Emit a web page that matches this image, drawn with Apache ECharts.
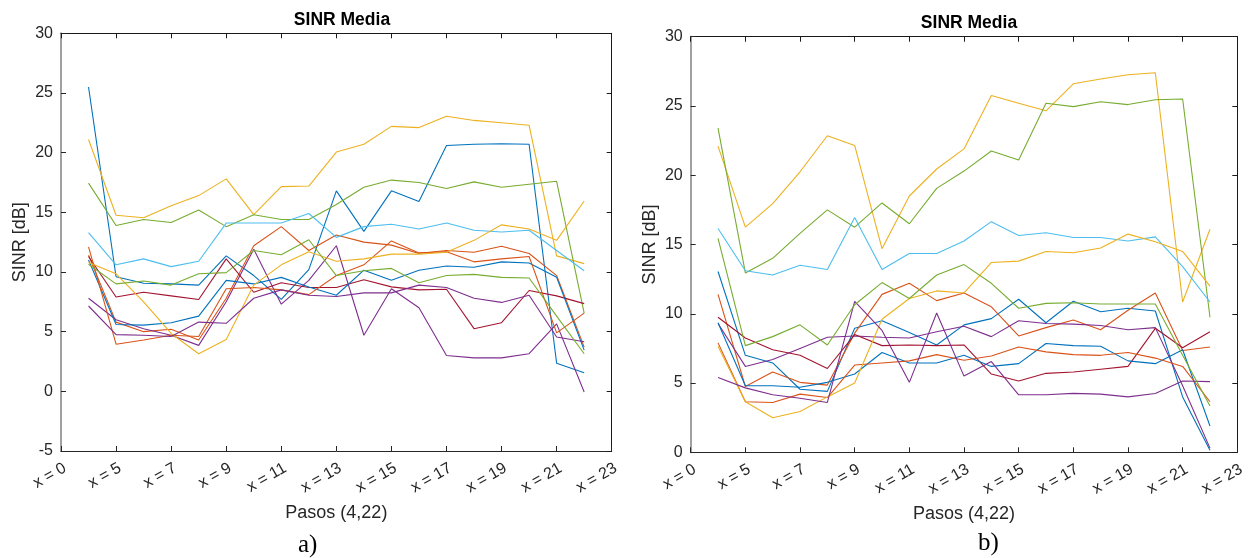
<!DOCTYPE html>
<html>
<head>
<meta charset="utf-8">
<script src="https://cdn.jsdelivr.net/npm/echarts@6/dist/echarts.min.js"></script>
<style>
  html, body { margin: 0; padding: 0; background: #ffffff; }
  #chart { width: 1251px; height: 558px; }
</style>
</head>
<body>
<div id="chart"></div>
<script>
// Steps along the route (x = 4 ... 22)
const steps = [4, 5, 6, 7, 8, 9, 10, 11, 12, 13, 14, 15, 16, 17, 18, 19, 20, 21, 22];

// Axis ticks and their labels
const tickValues = [3, 5, 7, 9, 11, 13, 15, 17, 19, 21, 23];
const tickLabels = ['x = 0', 'x = 5', 'x = 7', 'x = 9', 'x = 11', 'x = 13', 'x = 15', 'x = 17', 'x = 19', 'x = 21', 'x = 23'];
const yTicksA = [-5, 0, 5, 10, 15, 20, 25, 30];
const yTicksB = [0, 5, 10, 15, 20, 25, 30];

// Panel a) mean SINR per run [dB]
const a1  = [25.5, 9.6, 9.05, 9.0, 8.9, 11.35, 9.7, 7.7, 10.2, 16.8, 13.4, 16.8, 15.9, 20.6, 20.7, 20.75, 20.7, 2.35, 1.55];
const a2  = [11.4, 5.8, 5.0, 5.2, 4.3, 7.8, 12.2, 13.8, 11.8, 13.1, 12.5, 12.25, 11.55, 11.8, 11.65, 12.15, 11.55, 9.7, 3.7];
const a3  = [21.1, 14.75, 14.55, 15.55, 16.4, 17.8, 14.8, 17.15, 17.2, 20.05, 20.7, 22.2, 22.1, 23.05, 22.7, 22.5, 22.3, 11.35, 10.7];
const a4  = [7.8, 6.0, 5.25, 4.7, 3.85, 7.5, 11.9, 7.3, 9.3, 12.2, 4.7, 8.6, 7.0, 3.0, 2.8, 2.8, 3.15, 5.65, -0.05];
const a5  = [17.45, 13.9, 14.4, 14.15, 15.2, 13.8, 14.8, 14.4, 14.4, 15.65, 17.1, 17.7, 17.5, 17.0, 17.55, 17.1, 17.35, 17.6, 6.55];
const a6  = [13.3, 10.6, 11.1, 10.45, 10.9, 14.1, 14.1, 14.1, 14.9, 12.9, 13.8, 14.0, 13.6, 14.1, 13.5, 13.35, 13.5, 11.8, 10.1];
const a7  = [11.3, 7.9, 8.3, 8.0, 7.7, 11.1, 8.3, 9.1, 8.7, 8.7, 9.35, 8.75, 8.5, 8.55, 5.25, 5.75, 8.45, 8.0, 7.35];
const a8  = [11.0, 5.6, 5.55, 5.75, 6.3, 9.3, 9.0, 9.55, 8.75, 8.05, 10.15, 9.3, 10.15, 10.5, 10.4, 10.85, 10.75, 9.55, 3.45];
const a9  = [12.1, 3.95, 4.3, 4.7, 4.6, 8.6, 8.7, 8.5, 8.1, 9.7, 10.6, 12.6, 11.6, 11.7, 10.85, 11.1, 11.3, 4.9, 6.55];
const a10 = [10.8, 9.85, 7.5, 4.85, 3.15, 4.35, 8.9, 10.6, 11.7, 10.9, 11.1, 11.5, 11.5, 11.65, 12.65, 13.95, 13.6, 12.65, 15.95];
const a11 = [7.15, 4.75, 4.7, 4.6, 5.8, 5.7, 7.8, 8.5, 8.05, 7.95, 8.25, 8.25, 8.9, 8.7, 7.8, 7.45, 8.05, 4.55, 4.15];
const a12 = [10.65, 9.0, 9.25, 8.9, 9.85, 9.95, 11.8, 11.45, 12.7, 9.7, 10.1, 10.3, 9.1, 9.7, 9.8, 9.55, 9.5, 6.3, 3.15];

// Panel b) mean SINR per run [dB]
const b1  = [13.05, 7.0, 6.45, 4.55, 4.4, 8.95, 9.5, 8.65, 7.75, 9.2, 9.65, 11.05, 9.35, 10.9, 10.15, 10.4, 10.2, 4.0, 0.15];
const b2  = [11.4, 4.75, 5.8, 5.05, 4.85, 8.6, 11.4, 12.2, 10.95, 11.5, 10.5, 8.4, 9.0, 9.55, 8.85, 10.25, 11.5, 7.35, 7.6];
const b3  = [22.1, 16.25, 17.95, 20.25, 22.85, 22.15, 14.7, 18.5, 20.45, 21.9, 25.75, 25.2, 24.65, 26.6, 26.95, 27.25, 27.4, 10.85, 16.1];
const b4  = [9.3, 6.2, 6.7, 7.5, 8.3, 8.4, 8.3, 8.25, 8.7, 9.1, 8.35, 9.5, 9.3, 9.25, 9.15, 8.85, 9.0, 4.8, 0.3];
const b5  = [23.4, 12.95, 14.0, 15.8, 17.5, 16.25, 18.0, 16.5, 19.05, 20.3, 21.75, 21.1, 25.2, 24.95, 25.3, 25.1, 25.45, 25.5, 9.75];
const b6  = [16.15, 13.1, 12.8, 13.5, 13.2, 16.95, 13.2, 14.35, 14.35, 15.25, 16.65, 15.65, 15.85, 15.5, 15.5, 15.25, 15.55, 13.4, 10.85];
const b7  = [9.75, 8.25, 7.4, 7.0, 6.05, 8.5, 7.7, 7.75, 7.7, 7.75, 5.65, 5.15, 5.7, 5.8, 6.0, 6.2, 8.95, 7.55, 8.7];
const b8  = [9.35, 4.8, 4.8, 4.7, 5.05, 5.65, 7.2, 6.45, 6.45, 7.0, 6.2, 6.4, 7.85, 7.7, 7.65, 6.6, 6.4, 7.4, 1.9];
const b9  = [7.9, 3.65, 3.6, 4.2, 3.95, 6.3, 6.45, 6.6, 7.05, 6.65, 6.95, 7.6, 7.25, 7.05, 7.0, 7.2, 6.8, 6.2, 3.65];
const b10 = [7.65, 3.65, 2.5, 2.95, 4.0, 5.0, 9.6, 11.1, 11.65, 11.5, 13.7, 13.8, 14.5, 14.4, 14.75, 15.75, 15.2, 14.5, 12.0];
const b11 = [5.4, 4.65, 4.15, 3.9, 3.6, 10.9, 8.8, 5.05, 10.05, 5.5, 6.55, 4.15, 4.15, 4.25, 4.2, 4.0, 4.25, 5.15, 5.1];
const b12 = [15.45, 7.7, 8.35, 9.2, 7.75, 10.65, 12.25, 11.1, 12.8, 13.55, 12.2, 10.4, 10.75, 10.8, 10.7, 10.7, 10.7, 7.0, 3.35];

const runsA = [a1, a2, a3, a4, a5, a6, a7, a8, a9, a10, a11, a12];
const runsB = [b1, b2, b3, b4, b5, b6, b7, b8, b9, b10, b11, b12];

// Default line colour order, cycling
const lineColors = ['#0072BD', '#D95319', '#EDB120', '#7E2F8E', '#77AC30', '#4DBEEE', '#A2142F'];

const FONT = '"Liberation Sans", Arial, Helvetica, sans-serif';
const SERIF = '"Liberation Serif", "Times New Roman", serif';
const TXT = '#262626';

const grids = [
  { left: 61, top: 33.3, width: 550.7, height: 417.7 },
  { left: 690.7, top: 36.7, width: 546.6, height: 415.6 }
];

function tickFormatter(v) {
  const i = tickValues.indexOf(v);
  return i >= 0 ? tickLabels[i] : '';
}

const xAxes = [];
const yAxes = [];
[0, 1].forEach(function (g) {
  // bottom axis with labels
  xAxes.push({
    type: 'value', gridIndex: g, position: 'bottom', min: 3, max: 23,
    name: 'Pasos (4,22)', nameLocation: 'middle', nameGap: 53,
    nameTextStyle: { fontFamily: FONT, fontSize: 18, color: TXT },
    axisLine: { show: true, onZero: false, lineStyle: { color: TXT, width: 1 } },
    axisTick: { show: true, inside: true, length: 5, customValues: tickValues, lineStyle: { color: TXT } },
    axisLabel: {
      show: true, rotate: 30, margin: 9, customValues: tickValues,
      align: 'right', verticalAlign: 'top',
      formatter: tickFormatter, fontFamily: FONT, fontSize: 16, color: TXT
    },
    splitLine: { show: false }
  });
  // top box edge
  xAxes.push({
    type: 'value', gridIndex: g, position: 'top', min: 3, max: 23,
    axisLine: { show: true, onZero: false, lineStyle: { color: '#1a1a1a', width: 1 } },
    axisTick: { show: true, inside: true, length: 5, customValues: tickValues, lineStyle: { color: '#1a1a1a' } },
    axisLabel: { show: false },
    splitLine: { show: false }
  });
  const yt = g === 0 ? yTicksA : yTicksB;
  // left axis with labels
  yAxes.push({
    type: 'value', gridIndex: g, position: 'left',
    min: yt[0], max: yt[yt.length - 1], interval: 5,
    name: 'SINR [dB]', nameLocation: 'middle', nameGap: 32, nameRotate: 90,
    nameTextStyle: { fontFamily: FONT, fontSize: 18, color: TXT },
    axisLine: { show: true, onZero: false, lineStyle: { color: '#a0a0a0', width: 2 } },
    axisTick: { show: true, inside: true, length: 5, lineStyle: { color: TXT } },
    axisLabel: { show: true, margin: 8, fontFamily: FONT, fontSize: 16, color: TXT },
    splitLine: { show: false }
  });
  // right box edge
  yAxes.push({
    type: 'value', gridIndex: g, position: 'right',
    min: yt[0], max: yt[yt.length - 1], interval: 5,
    axisLine: { show: true, onZero: false, lineStyle: { color: '#1a1a1a', width: 1 } },
    axisTick: { show: true, inside: true, length: 5, lineStyle: { color: '#1a1a1a' } },
    axisLabel: { show: false },
    splitLine: { show: false }
  });
});

function makeSeries(runs, g) {
  return runs.map(function (vals, k) {
    return {
      type: 'line',
      xAxisIndex: g * 2,
      yAxisIndex: g * 2,
      data: steps.map(function (s, i) { return [s, vals[i]]; }),
      showSymbol: false,
      symbol: 'none',
      lineStyle: { width: 1.1, color: lineColors[k % lineColors.length] },
      itemStyle: { color: lineColors[k % lineColors.length] },
      emphasis: { disabled: true },
      z: 2 + k
    };
  });
}

const option = {
  backgroundColor: '#ffffff',
  animation: false,
  title: [
    { text: 'SINR Media', left: 337, top: 6, textAlign: 'center',
      textStyle: { fontFamily: FONT, fontSize: 17.5, fontWeight: 'bold', color: '#000000' } },
    { text: 'SINR Media', left: 964, top: 9, textAlign: 'center',
      textStyle: { fontFamily: FONT, fontSize: 17.5, fontWeight: 'bold', color: '#000000' } }
  ],
  grid: grids,
  xAxis: xAxes,
  yAxis: yAxes,
  graphic: [
    { type: 'text', left: 298, top: 533,
      style: { text: 'a)', fontFamily: SERIF, fontSize: 25, fill: '#000000' } },
    { type: 'text', left: 978, top: 531,
      style: { text: 'b)', fontFamily: SERIF, fontSize: 25, fill: '#000000' } }
  ],
  series: makeSeries(runsA, 0).concat(makeSeries(runsB, 1))
};

const chart = echarts.init(document.getElementById('chart'), null, { renderer: 'canvas' });
chart.setOption(option);
</script>
</body>
</html>
